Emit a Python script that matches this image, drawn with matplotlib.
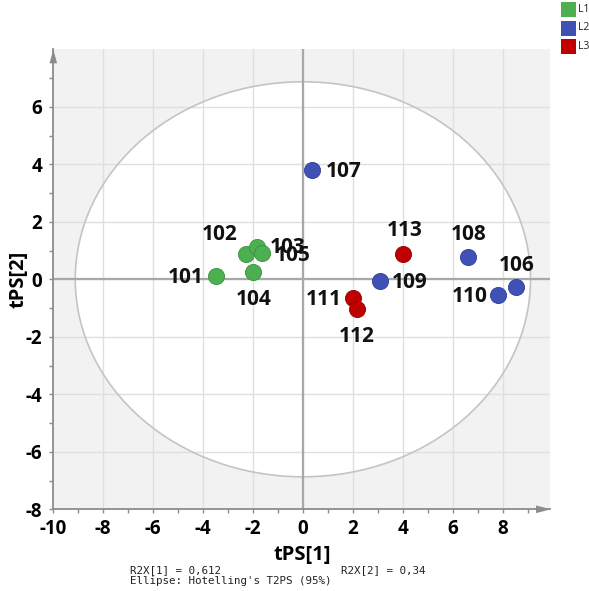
import matplotlib
matplotlib.use("Agg")
import matplotlib.pyplot as plt
import matplotlib.transforms as mtransforms
from matplotlib.patches import Ellipse, Polygon, Rectangle
import numpy as np

plt.rcParams["font.family"] = ["Open Sans", "DejaVu Sans"]
plt.rcParams["axes.unicode_minus"] = False

# Score values per sample
sample_ids = ["101", "102", "103", "104", "105", "106", "107",
              "108", "109", "110", "111", "112", "113"]
groups = ["L1", "L1", "L1", "L1", "L1", "L2", "L2",
          "L2", "L2", "L2", "L3", "L3", "L3"]
tps1 = [-3.49, -2.26, -1.85, -2.01, -1.65, 8.52, 0.38,
        6.60, 3.07, 7.80, 2.02, 2.15, 4.02]
tps2 = [0.12, 0.87, 1.13, 0.24, 0.93, -0.28, 3.81,
        0.77, -0.05, -0.56, -0.64, -1.04, 0.88]

group_names = ["L1", "L2", "L3"]
group_colors = {"L1": "#4CAF50", "L2": "#3F51B5", "L3": "#C00000"}
group_edges = {"L1": "#3C8E40", "L2": "#2F3F96", "L3": "#960000"}

# Hotelling's T2 ellipse semi-axes (95%)
ellipse_a = 9.12
ellipse_b = 6.87

r2x_1 = "0,612"
r2x_2 = "0,34"

# label offsets in pixels (dx right, dy up)
label_offsets = {
    "101": (-30, -2), "102": (-27, 20), "103": (31, -1), "104": (1, -27),
    "105": (31, -3), "106": (1, 22), "107": (31, -2), "108": (1, 23),
    "109": (30, -2), "110": (-28, -1), "111": (-30, -2), "112": (0, -27),
    "113": (1, 23),
}

W, H = 589, 591
fig = plt.figure(figsize=(W / 100, H / 100), dpi=100)
left, right, top, bottom = 53.3, 550.0, 49.3, 509.3
ax = fig.add_axes([left / W, 1 - bottom / H, (right - left) / W, (bottom - top) / H])
xmin, xmax, ymin, ymax = -10, 9.9, -8, 8
ax.set_xlim(xmin, xmax)
ax.set_ylim(ymin, ymax)
ax.set_facecolor("#f2f2f2")

# white ellipse interior below grid
ax.add_patch(Ellipse((0, 0), 2 * ellipse_a, 2 * ellipse_b, facecolor="white",
                     edgecolor="none", zorder=0.5))
grid_c = "#dfdfdf"
for gx in np.arange(-8, 10, 2):
    ax.axvline(gx, color=grid_c, lw=1.0, zorder=1)
for gy in np.arange(-6, 8, 2):
    ax.axhline(gy, color=grid_c, lw=1.0, zorder=1)
ax.add_patch(Ellipse((0, 0), 2 * ellipse_a, 2 * ellipse_b, facecolor="none",
                     edgecolor="#c4c4c4", lw=1.2, zorder=1.5))
ax.axvline(0, color="#a8a8a8", lw=1.6, zorder=1.8)
ax.axhline(0, color="#a8a8a8", lw=1.6, zorder=1.8)

for g in group_names:
    idx = [i for i, gg in enumerate(groups) if gg == g]
    ax.scatter([tps1[i] for i in idx], [tps2[i] for i in idx], s=135,
               color=group_colors[g], edgecolor=group_edges[g], linewidth=0.6,
               zorder=3)

for sid, x, y in zip(sample_ids, tps1, tps2):
    dx, dy = label_offsets[sid]
    ax.annotate(sid, (x, y), xytext=(dx * 0.72, dy * 0.72), textcoords="offset points",
                ha="center", va="center", fontsize=15, fontweight="bold",
                color="#111111", zorder=4)

# axes styling
for s in ["top", "right"]:
    ax.spines[s].set_visible(False)
for s in ["left", "bottom"]:
    ax.spines[s].set_color("#8c8c8c")
    ax.spines[s].set_linewidth(1.3)
    ax.spines[s].set_zorder(5)

ax.set_xticks(np.arange(-10, 10, 2))
ax.set_yticks(np.arange(-8, 8, 2))
ax.set_xticks(np.arange(-9, 10, 1), minor=True)
ax.set_yticks(np.arange(-7, 8, 1), minor=True)
ax.tick_params(which="both", direction="out", length=3, width=1, color="#8c8c8c")
ax.tick_params(axis="x", which="major", labelsize=13.5, pad=4)
ax.tick_params(axis="y", which="major", labelsize=13.5, pad=5)
for lab in ax.get_xticklabels() + ax.get_yticklabels():
    lab.set_fontweight("bold")

ax.set_xlabel("tPS[1]", fontsize=14.5, fontweight="bold")
ax.set_ylabel("tPS[2]", fontsize=14.5, fontweight="bold")
ax.xaxis.set_label_coords((302.3 - left) / (right - left), -(555 - bottom) / (bottom - top))
ax.yaxis.set_label_coords(-(left - 19) / (right - left), (bottom - 279.3) / (bottom - top))
ax.xaxis.label.set_va("center")
ax.yaxis.label.set_va("center")

# arrow heads on the axis lines
up_tr = mtransforms.Affine2D() + mtransforms.ScaledTranslation(0, 1, ax.transAxes)
ax.add_patch(Polygon([(-3.8, -14), (3.8, -14), (0, 0)], closed=True,
                     facecolor="#8c8c8c", edgecolor="none", transform=up_tr,
                     clip_on=False, zorder=6))
rt_tr = mtransforms.Affine2D() + mtransforms.ScaledTranslation(1, 0, ax.transAxes)
ax.add_patch(Polygon([(-14, -3.8), (-14, 3.8), (1, 0)], closed=True,
                     facecolor="#8c8c8c", edgecolor="none", transform=rt_tr,
                     clip_on=False, zorder=6))

# legend
for i, g in enumerate(group_names):
    y0 = 1 - (17 + 18.5 * i) / H
    fig.add_artist(Rectangle((561 / W, y0), 15 / W, 15 / H, transform=fig.transFigure,
                             facecolor=group_colors[g], edgecolor="none"))
    fig.text(578 / W, y0 + 7.5 / H, g, fontsize=7.5, va="center", ha="left",
             color="#222222")

# footer
mono = "DejaVu Sans Mono"
fig.text(130 / W, 1 - 570.5 / H, f"R2X[1] = {r2x_1}", family=mono, fontsize=7.8,
         va="center", ha="left", color="#222222")
fig.text(341 / W, 1 - 570.5 / H, f"R2X[2] = {r2x_2}", family=mono, fontsize=7.8,
         va="center", ha="left", color="#222222")
fig.text(130 / W, 1 - 580.5 / H, "Ellipse: Hotelling's T2PS (95%)", family=mono,
         fontsize=7.8, va="center", ha="left", color="#222222")

fig.savefig("out.png", dpi=100)
